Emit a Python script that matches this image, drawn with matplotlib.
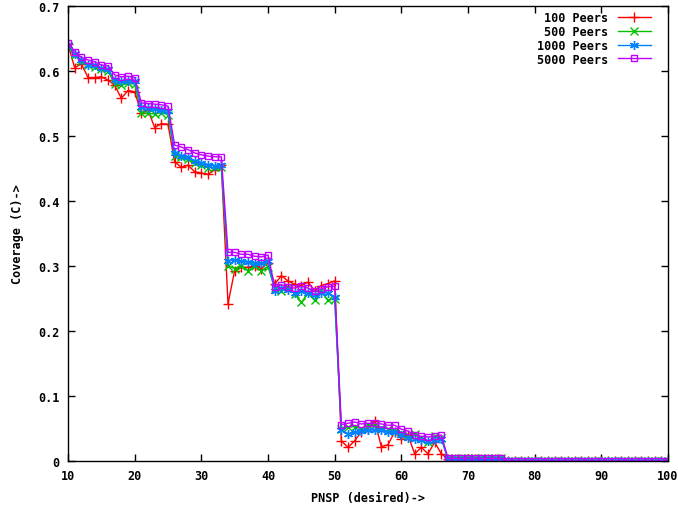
import matplotlib
matplotlib.use("Agg")
import matplotlib.pyplot as plt

# PNSP values on the x axis
pnsp = list(range(10, 101))

# coverage for each peer count
cov_100 = [0.641, 0.605, 0.611, 0.590, 0.590, 0.591, 0.586, 0.578, 0.558, 0.570,
           0.568, 0.535, 0.540, 0.513, 0.519, 0.518, 0.460, 0.452, 0.455, 0.445,
           0.443, 0.441, 0.448, 0.455, 0.242, 0.293, 0.298, 0.298, 0.300, 0.296,
           0.305, 0.272, 0.285, 0.277, 0.272, 0.270, 0.275, 0.262, 0.270, 0.273,
           0.277, 0.031, 0.021, 0.031, 0.045, 0.050, 0.062, 0.022, 0.025, 0.045,
           0.034, 0.040, 0.011, 0.021, 0.011, 0.029, 0.011,
           0.003, 0.003, 0.003, 0.003, 0.003, 0.003, 0.003, 0.003, 0.003,
           0, 0, 0, 0, 0, 0, 0, 0, 0, 0, 0, 0, 0, 0, 0, 0, 0, 0, 0, 0, 0, 0, 0, 0, 0]

cov_500 = [0.638, 0.624, 0.616, 0.609, 0.606, 0.603, 0.600, 0.580, 0.578, 0.581,
           0.580, 0.536, 0.535, 0.534, 0.536, 0.533, 0.470, 0.468, 0.465, 0.458,
           0.455, 0.451, 0.452, 0.453, 0.300, 0.296, 0.300, 0.293, 0.300, 0.293,
           0.299, 0.266, 0.262, 0.268, 0.257, 0.244, 0.258, 0.247, 0.262, 0.247,
           0.250, 0.050, 0.052, 0.053, 0.050, 0.055, 0.055, 0.051, 0.050, 0.046,
           0.043, 0.040, 0.042, 0.036, 0.030, 0.038, 0.035,
           0.004, 0.004, 0.004, 0.004, 0.004, 0.004, 0.004, 0.004, 0.004,
           0, 0, 0, 0, 0, 0, 0, 0, 0, 0, 0, 0, 0, 0, 0, 0, 0, 0, 0, 0, 0, 0, 0, 0, 0]

cov_1000 = [0.640, 0.626, 0.617, 0.610, 0.609, 0.604, 0.603, 0.586, 0.585, 0.584,
            0.585, 0.544, 0.543, 0.541, 0.540, 0.538, 0.474, 0.470, 0.467, 0.462,
            0.459, 0.456, 0.454, 0.456, 0.308, 0.309, 0.307, 0.306, 0.305, 0.304,
            0.307, 0.262, 0.266, 0.263, 0.259, 0.262, 0.259, 0.256, 0.258, 0.259,
            0.252, 0.048, 0.042, 0.044, 0.046, 0.047, 0.048, 0.047, 0.045, 0.044,
            0.040, 0.036, 0.034, 0.032, 0.031, 0.032, 0.034,
            0.003, 0.003, 0.003, 0.003, 0.003, 0.003, 0.003, 0.003, 0.003,
            0, 0, 0, 0, 0, 0, 0, 0, 0, 0, 0, 0, 0, 0, 0, 0, 0, 0, 0, 0, 0, 0, 0, 0, 0]

cov_5000 = [0.643, 0.630, 0.621, 0.617, 0.614, 0.609, 0.608, 0.594, 0.591, 0.592,
            0.590, 0.551, 0.550, 0.549, 0.548, 0.546, 0.486, 0.483, 0.479, 0.474,
            0.471, 0.469, 0.468, 0.468, 0.321, 0.321, 0.318, 0.318, 0.315, 0.314,
            0.317, 0.268, 0.271, 0.268, 0.266, 0.269, 0.266, 0.261, 0.265, 0.268,
            0.269, 0.056, 0.058, 0.060, 0.057, 0.058, 0.058, 0.057, 0.055, 0.055,
            0.049, 0.046, 0.040, 0.038, 0.037, 0.038, 0.040,
            0.004, 0.004, 0.004, 0.004, 0.004, 0.004, 0.004, 0.004, 0.004,
            0, 0, 0, 0, 0, 0, 0, 0, 0, 0, 0, 0, 0, 0, 0, 0, 0, 0, 0, 0, 0, 0, 0, 0, 0]

labels = ["100 Peers", "500 Peers", "1000 Peers", "5000 Peers"]
x_ticks = [10, 20, 30, 40, 50, 60, 70, 80, 90, 100]
y_ticks = [0, 0.1, 0.2, 0.3, 0.4, 0.5, 0.6, 0.7]
y_tick_labels = ["0", "0.1", "0.2", "0.3", "0.4", "0.5", "0.6", "0.7"]

# gnuplot-ish look
mono = {"family": "DejaVu Sans Mono", "weight": "bold", "size": 8.5}

fig = plt.figure(figsize=(6.78, 5.10), dpi=100)
ax = fig.add_axes([68 / 678, 48 / 510, 600 / 678, 455 / 510])

series = [cov_100, cov_500, cov_1000, cov_5000]
colors = ["#ff0000", "#00c000", "#0080ff", "#c000ff"]
# gnuplot point types: plus, cross, asterisk, open box
markers = ["+", "x", (6, 2, 0), "s"]
sizes = [7, 5.5, 6.5, 5]

for ys, lab, c, m, ms in zip(series, labels, colors, markers, sizes):
    ax.plot(pnsp, ys, color=c, marker=m, markersize=ms, linewidth=1,
            markerfacecolor="none", markeredgecolor=c, markeredgewidth=1,
            label=lab)

ax.set_xlim(10, 100)
ax.set_ylim(0, 0.7)
ax.set_xticks(x_ticks)
ax.set_xticklabels([str(t) for t in x_ticks], fontdict=mono)
ax.set_yticks(y_ticks)
ax.set_yticklabels(y_tick_labels, fontdict=mono)
ax.tick_params(direction="in", length=5, width=1, top=True, right=True, pad=6)

for s in ax.spines.values():
    s.set_linewidth(1)

ax.set_xlabel("PNSP (desired)->", fontdict=mono, labelpad=6)
ax.set_ylabel("Coverage (C)->", fontdict=mono, labelpad=10)

leg = ax.legend(loc="upper right", bbox_to_anchor=(0.985, 1.007),
                frameon=False, markerfirst=False,
                handlelength=2.8, labelspacing=0.07, borderaxespad=0.3,
                handletextpad=0.8, prop={"family": "DejaVu Sans Mono",
                                         "weight": "bold", "size": 8.5})
for t in leg.get_texts():
    t.set_ha("right")

fig.savefig("out.png", dpi=100)
